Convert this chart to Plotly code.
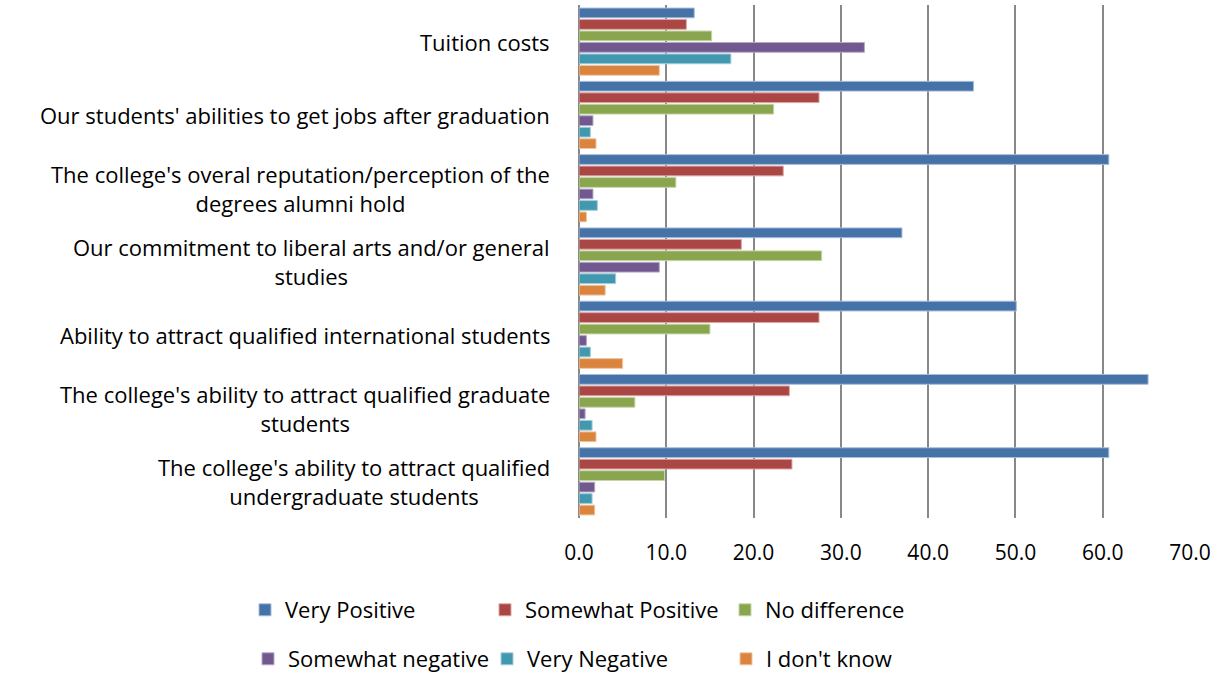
import plotly.graph_objects as go

categories = [
    "Tuition costs",
    "Our students' abilities to get jobs after graduation",
    "The college's overal reputation/perception of the<br>degrees alumni hold",
    "Our commitment to liberal arts and/or general<br>studies",
    "Ability to attract qualified international students",
    "The college's ability to attract qualified graduate<br>students",
    "The college's ability to attract qualified<br>undergraduate students",
]

series_names = ["Very Positive", "Somewhat Positive", "No difference",
                "Somewhat negative", "Very Negative", "I don't know"]

very_positive = [13.2, 45.2, 60.7, 37.0, 50.1, 65.2, 60.7]
somewhat_positive = [12.3, 27.5, 23.4, 18.6, 27.5, 24.1, 24.4]
no_difference = [15.2, 22.3, 11.1, 27.8, 15.0, 6.4, 9.8]
somewhat_negative = [32.7, 1.6, 1.6, 9.2, 0.85, 0.7, 1.8]
very_negative = [17.4, 1.3, 2.1, 4.2, 1.3, 1.5, 1.5]
dont_know = [9.2, 1.95, 0.85, 3.0, 5.0, 1.95, 1.8]

tick_vals = [0, 10, 20, 30, 40, 50, 60, 70]
tick_text = ["0.0", "10.0", "20.0", "30.0", "40.0", "50.0", "60.0", "70.0"]

colors = ["#4572A7", "#AA4643", "#89A54E", "#71588F", "#4198AF", "#DB843D"]
line_colors = ["#A9BCD9", "#D9A6A5", "#C4D6A8", "#B6A9C8", "#A3CEDA", "#EEC5A3"]

all_series = [very_positive, somewhat_positive, no_difference,
              somewhat_negative, very_negative, dont_know]

FONT = "Open Sans"
FS = 22
TXT = "#000000"

fig = go.Figure()
for i, (name, vals) in enumerate(zip(series_names, all_series)):
    fig.add_trace(go.Bar(
        y=categories, x=vals, name=name, orientation="h",
        marker=dict(color=colors[i], line=dict(color=line_colors[i], width=1)),
        legend="legend" if i < 3 else "legend2",
    ))

for c in categories:
    fig.add_annotation(
        x=-0.045, xref="paper", y=c, yref="y", text=c, showarrow=False,
        xanchor="right", yanchor="middle", align="center",
        font=dict(family=FONT, size=FS, color=TXT),
    )

W, H = 1223, 674
L, R, T, B = 579, 33, 5, 156
pw = W - L - R
ph = H - T - B

def px_x(p):
    return (p - L) / pw

def px_y(p):
    return (H - B - p) / ph

fig.update_layout(
    width=W, height=H,
    margin=dict(l=L, r=R, t=T, b=B, autoexpand=False),
    plot_bgcolor="white", paper_bgcolor="white",
    barmode="group", bargap=0.06, bargroupgap=0.15,
    font=dict(family=FONT, size=FS, color=TXT),
    xaxis=dict(
        range=[0, 70], tickvals=tick_vals, ticktext=tick_text,
        showgrid=True, gridcolor="#888888", gridwidth=2,
        zeroline=True, zerolinecolor="#888888", zerolinewidth=2,
        showline=False, ticks="", ticklabelstandoff=20,
        tickfont=dict(family=FONT, size=21, color=TXT),
        fixedrange=True, automargin=False,
    ),
    yaxis=dict(
        autorange="reversed", showticklabels=False, showgrid=False,
        zeroline=False, showline=False, ticks="", fixedrange=True,
    ),
    legend=dict(
        orientation="h", x=px_x(245), xanchor="left", y=px_y(610), yanchor="middle",
        entrywidth=195, entrywidthmode="pixels", traceorder="normal",
        font=dict(family=FONT, size=FS, color=TXT), itemwidth=30,
        bgcolor="rgba(0,0,0,0)",
    ),
    legend2=dict(
        orientation="h", x=px_x(248), xanchor="left", y=px_y(659), yanchor="middle",
        entrywidth=194, entrywidthmode="pixels", traceorder="normal",
        font=dict(family=FONT, size=FS, color=TXT), itemwidth=30,
        bgcolor="rgba(0,0,0,0)",
    ),
    showlegend=True,
)

fig.write_html("out.html", config={"displayModeBar": False},
               post_script="document.body.style.margin='0px';")
